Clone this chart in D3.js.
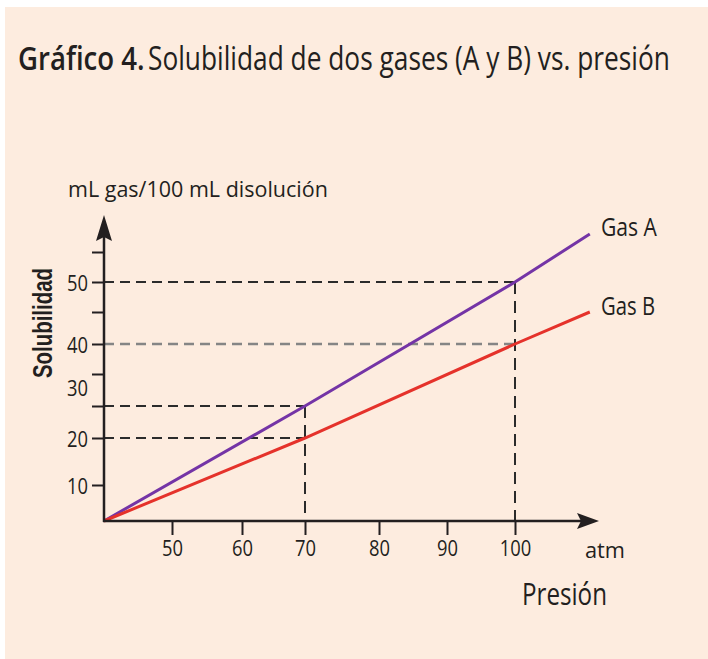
<!DOCTYPE html>
<html>
<head>
<meta charset="utf-8">
<script src="https://cdn.jsdelivr.net/npm/d3@7"></script>
<style>
  body { margin: 0; background: #fff; }
  svg text { font-family: "Open Sans", sans-serif; fill: #231f20; }
</style>
</head>
<body>
<svg id="chart" width="708" height="659"></svg>
<script>
// data
const pressure = [40, 70, 100, 111];     // atm
const gasA = [0, 25, 50, 58];            // mL gas / 100 mL
const gasB = [0, 20, 40, 45];
const xTicks = [50, 60, 70, 80, 90, 100];
const yTicks = [10, 20, 25, 30, 40, 45, 50, 55];
const yLabels = [10, 20, 30, 40, 50];
// dashed read-outs: pressure, value, series
const guideP = [70, 70, 100, 100];
const guideV = [25, 20, 50, 40];
const guideGray = [false, false, false, true];

const svg = d3.select("#chart");
const ink = "#231f20";

svg.append("rect")
  .attr("x", 5).attr("y", 7)
  .attr("width", 703).attr("height", 652)
  .attr("fill", "#fdecdf");

// squeeze a text horizontally to a given width (original uses a condensed face)
function narrowText(x, y, width, size, str) {
  const t = svg.append("text")
    .attr("font-size", size)
    .text(str);
  const w = t.node().getComputedTextLength();
  t.attr("transform", `translate(${x},${y}) scale(${width / w},1)`);
  return t;
}

// the original drawing is hand-spaced, so the scales are piecewise
const x = d3.scaleLinear()
  .domain([40, ...xTicks])
  .range([104, 172, 242, 305, 379, 447, 515]);
const y = d3.scaleLinear()
  .domain([0, ...yTicks])
  .range([521, 485, 438, 406, 374, 344, 312, 282, 252]);

// title
narrowText(18, 70, 123, 33, "Gráfico 4.").attr("font-weight", 600);
narrowText(148, 70, 522, 33, "Solubilidad de dos gases (A y B) vs. presión");

// dashed guides
guideP.forEach((p, i) => {
  const col = guideGray[i] ? "#858585" : "#2b2b2b";
  svg.append("line")
    .attr("x1", x(40)).attr("x2", x(p))
    .attr("y1", y(guideV[i])).attr("y2", y(guideV[i]))
    .attr("stroke", col)
    .attr("stroke-width", guideGray[i] ? 2.6 : 2)
    .attr("stroke-dasharray", "10,6");
});
[70, 100].forEach(p => {
  const top = d3.max(guideP.map((g, i) => g === p ? guideV[i] : 0));
  svg.append("line")
    .attr("x1", x(p)).attr("x2", x(p))
    .attr("y1", y(top)).attr("y2", y(0))
    .attr("stroke", "#2b2b2b")
    .attr("stroke-width", 2)
    .attr("stroke-dasharray", "12,7");
});

// gas lines
const line = d3.line()
  .x((d, i) => x(pressure[i]))
  .y(d => y(d));
svg.append("path").datum(gasA)
  .attr("d", line)
  .attr("fill", "none")
  .attr("stroke", "#7434a6")
  .attr("stroke-width", 3);
svg.append("path").datum(gasB)
  .attr("d", line)
  .attr("fill", "none")
  .attr("stroke", "#e5322b")
  .attr("stroke-width", 3);

// axes
const gy = svg.append("g")
  .attr("transform", `translate(${x(40)},0)`)
  .call(d3.axisLeft(y)
    .tickValues(yTicks)
    .tickSize(12)
    .tickPadding(4)
    .tickFormat(d => yLabels.includes(d) ? d : ""));
gy.select(".domain").remove();
gy.selectAll(".tick line").attr("stroke", ink).attr("stroke-width", 2);
gy.selectAll(".tick text")
  .attr("font-size", 21)
  .attr("fill", ink)
  .attr("textLength", d => yLabels.includes(d) ? 21 : null)
  .attr("lengthAdjust", "spacingAndGlyphs")
  // the "30" sits below its tick in the original
  .attr("y", d => d === 30 ? 15 : 2);
gy.attr("font-family", null).attr("font-size", null);

const gx = svg.append("g")
  .attr("transform", `translate(0,${y(0)})`)
  .call(d3.axisBottom(x)
    .tickValues(xTicks)
    .tickSize(14)
    .tickPadding(5));
gx.select(".domain").remove();
gx.selectAll(".tick line").attr("stroke", ink).attr("stroke-width", 2);
gx.selectAll(".tick text")
  .attr("font-size", 22)
  .attr("fill", ink)
  .attr("textLength", d => String(d).length * 10.5)
  .attr("lengthAdjust", "spacingAndGlyphs");
gx.attr("font-family", null).attr("font-size", null);

// axis lines with arrow heads
const x0 = x(40), y0 = y(0);
svg.append("line")
  .attr("x1", x0).attr("x2", x0)
  .attr("y1", y0 + 1).attr("y2", 236)
  .attr("stroke", ink).attr("stroke-width", 2.5);
svg.append("path")
  .attr("d", `M${x0},215 L${x0 + 8},241 L${x0},237 L${x0 - 8},241 Z`)
  .attr("fill", ink);
svg.append("line")
  .attr("x1", x0 - 1).attr("x2", 582)
  .attr("y1", y0).attr("y2", y0)
  .attr("stroke", ink).attr("stroke-width", 2.5);
svg.append("path")
  .attr("d", `M599,${y0} L577,${y0 - 8} L581,${y0} L577,${y0 + 8} Z`)
  .attr("fill", ink);

// labels
narrowText(68, 197, 260, 21, "mL gas/100 mL disolución");

svg.append("text")
  .attr("transform", "translate(52,378) rotate(-90)")
  .style("font-family", "'Liberation Sans', Arial, sans-serif")
  .attr("font-weight", "bold")
  .attr("font-size", 27)
  .attr("fill", "#333")
  .attr("textLength", 110)
  .attr("lengthAdjust", "spacingAndGlyphs")
  .text("Solubilidad");

narrowText(601, y(gasA[3]) + 2, 56, 25, "Gas A");
narrowText(601, y(gasB[3]) + 3, 54, 25, "Gas B");
narrowText(585, 558, 40, 22, "atm");
narrowText(522, 605, 85, 31, "Presión");
</script>
</body>
</html>
